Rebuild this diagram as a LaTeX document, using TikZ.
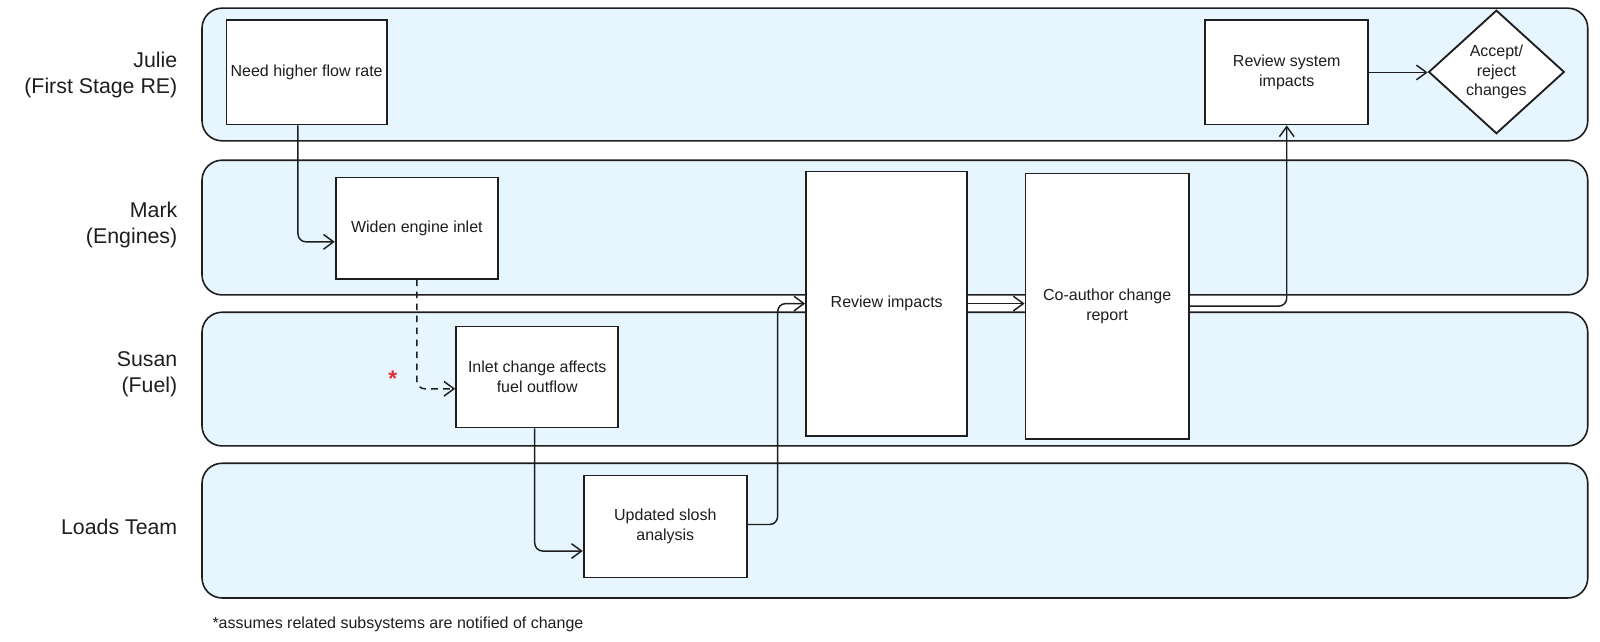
\documentclass[tikz,border=0pt]{standalone}
\usepackage{fontspec}
\setmainfont{Liberation Sans}
\usetikzlibrary{shapes.geometric,arrows.meta,calc}
\definecolor{ink}{HTML}{1E1E1E}
\definecolor{lanefill}{HTML}{E7F5FF}
\definecolor{starred}{HTML}{E03131}
\newcommand\boxfont{\fontsize{12}{14.8}\selectfont}
\newcommand\lanefont{\fontsize{16}{19.2}\selectfont}
\newcommand\notefont{\fontsize{12}{14}\selectfont}
\begin{document}
\begin{tikzpicture}[x=0.7653pt,y=-0.7653pt,
  lane/.style={draw=ink, fill=lanefill, rounded corners=15pt, line width=1.2pt,
    minimum width=1358*0.7653pt, minimum height=#1*0.7653pt, inner sep=0pt},
  stepbox/.style n args={2}{draw=ink, fill=white, line width=1.4pt,
    minimum width=#1*0.7653pt, minimum height=#2*0.7653pt, inner sep=2pt,
    align=center, font=\boxfont, text=ink},
  decision/.style={diamond, draw=ink, fill=white, line width=1.4pt,
    minimum width=133*0.7653pt, minimum height=121*0.7653pt, inner sep=0pt,
    align=center, font=\boxfont, text=ink},
  lanelabel/.style={anchor=east, align=right, font=\lanefont, text=ink, inner sep=0pt},
  arr/.style={draw=ink, line width=1.1pt, rounded corners=6pt,
    -{Straight Barb[length=7.5pt,width=11pt,line width=1.1pt]}},
  dasharr/.style={arr, dash pattern=on 5pt off 4pt}
]
\useasboundingbox (0,0) rectangle (1568,628.2);

% swimlanes
\node[lane=130] (laneA) at (877,73) {};
\node[lane=132] (laneB) at (877,223) {};
\node[lane=131] (laneC) at (877,371.5) {};
\node[lane=132] (laneD) at (877,520) {};

% lane labels
\node[lanelabel] (labA) at (174,73.5) {Julie\\(First Stage RE)};
\node[lanelabel] (labB) at (174,220.5) {Mark\\(Engines)};
\node[lanelabel] (labC) at (174,366.5) {Susan\\(Fuel)};
\node[lanelabel] (labD) at (174,516) {Loads Team};

% process boxes
\node[stepbox={157}{102}] (need) at (300.5,71) {Need higher flow rate};
\node[stepbox={159}{99}] (widen) at (408.5,223.5) {Widen engine inlet};
\node[stepbox={159}{99}] (inlet) at (526.5,369.5) {Inlet change affects\\fuel outflow};
\node[stepbox={160}{100}] (slosh) at (652,516) {Updated slosh\\analysis};
\node[stepbox={158}{259}] (review) at (869,297.5) {Review impacts};
\node[stepbox={160}{260}] (coauthor) at (1085,300) {Co-author change\\report};
\node[stepbox={160}{102}] (sysrev) at (1261,71) {Review system\\impacts};
\node[decision] (accept) at (1466.5,70.5) {Accept/\\reject\\changes};

% note marker and footnote
\node[anchor=base, font=\fontsize{17}{17}\selectfont\bfseries, text=starred, inner sep=0pt] (star) at (385,379) {*};
\node[anchor=west, font=\notefont, text=ink, inner sep=0pt] (note) at (208,612) {*assumes related subsystems are notified of change};

% connectors
\draw[arr] ($(need.south)+(-8.5,0)$) |- ($(widen.west)+(0,13.5)$);
\draw[dasharr] (widen.south) |- ($(inlet.west)+(0,11.5)$);
\draw[arr] ($(inlet.south)+(-2.5,0)$) |- ($(slosh.west)+(0,24)$);
\draw[arr] ($(slosh.east)+(0,-2)$) -| ($(review.west)+(-27,0)$) -- (review.west);
\draw[arr] (review.east) -- (review.east -| coauthor.west);
\draw[arr] (coauthor.east) -| (sysrev.south);
\draw[arr] (sysrev.east) -- (sysrev.east -| accept.west);
\end{tikzpicture}
\end{document}
